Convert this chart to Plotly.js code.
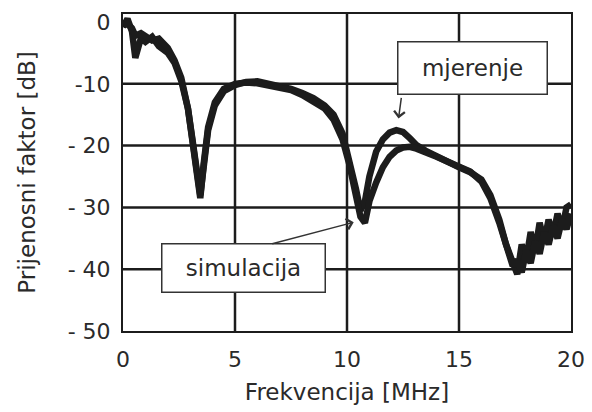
<!DOCTYPE html>
<html>
<head>
<meta charset="utf-8">
<script src="https://cdn.plot.ly/plotly-3.0.1.min.js"></script>
<style>html,body{margin:0;padding:0;background:#fff}#chart{width:592px;height:412px}</style>
</head>
<body>
<div id="chart"></div>
<script>
// Frequency (MHz)
const freq = [0, 0.2, 0.4, 0.55, 0.8, 1.0, 1.3, 1.6, 2.0, 2.3, 2.6, 2.9, 3.1, 3.3, 3.45, 3.6, 3.8, 4.1, 4.5, 5.0, 5.5, 6.0, 6.5, 7.0, 7.5, 8.0, 8.5, 9.0, 9.4, 9.8, 10.1, 10.4, 10.6, 10.8, 11.0, 11.3, 11.6, 11.9, 12.2, 12.5, 12.8, 13.1, 13.5, 14.0, 14.5, 15.0, 15.5, 16.0, 16.4, 16.8, 17.1, 17.4, 17.6, 17.8, 18.0, 18.2, 18.4, 18.6, 18.8, 19.0, 19.2, 19.4, 19.6, 19.8, 20.0];
// mjerenje (measurement), dB
const mjerenje = [-0.8, 0.5, -1.5, -5.8, -2.6, -3.2, -2.4, -3.9, -5.0, -6.6, -9.5, -14, -19, -25, -28, -23.5, -17.5, -13.5, -11.2, -10.2, -9.7, -9.6, -10.0, -10.3, -10.8, -11.5, -12.3, -13.5, -15, -18, -22, -27, -30.5, -29, -25, -21, -19, -17.9, -17.5, -17.8, -18.8, -19.9, -20.8, -21.8, -22.8, -23.5, -24.3, -25.5, -28, -32, -36, -39, -40.8, -36, -38.5, -34, -37, -32.5, -35.5, -32, -34.5, -31, -33.5, -30, -29.5];
// simulacija (simulation), dB
const simulacija = [-0.5, -0.3, -1.0, -2.2, -1.8, -2.4, -3.0, -2.7, -4.2, -6.2, -9.0, -14, -20, -26, -28.5, -23, -17, -13, -10.8, -10.0, -9.8, -9.9, -10.2, -10.5, -11.0, -11.8, -12.8, -14.0, -15.8, -19, -23, -28, -31.5, -32.5, -29, -26, -23.5, -21.8, -20.8, -20.3, -20.2, -20.5, -21.0, -21.8, -22.6, -23.4, -24.2, -25.8, -28.5, -32.5, -36.5, -39.5, -38.5, -40.5, -37, -39, -35.5, -37.5, -34, -36, -33, -35, -32, -33.5, -31];

const xTickVals = [0, 5, 10, 15, 20];
const xTickText = ["0", "5", "10", "15", "20"];
const yTickVals = [0, -10, -20, -30, -40, -50];
const yTickText = ["0", "-10", "- 20", "- 30", "- 40", "- 50"];
const gridX = [5, 10, 15];
const gridY = [-10, -20, -30, -40];

const font = "DejaVu Sans, Arial, sans-serif";
const ink = "#1c1c1c";
const txt = "#2a2a2a";

const lineStyle = {color: ink, width: 6.5, shape: "linear"};
const traces = [
  {x: freq, y: mjerenje, mode: "lines", name: "mjerenje", line: lineStyle, hoverinfo: "skip"},
  {x: freq, y: simulacija, mode: "lines", name: "simulacija", line: lineStyle, hoverinfo: "skip"}
];

const shapes = [];
gridX.forEach(v => shapes.push({type: "line", xref: "x", yref: "paper", x0: v, x1: v, y0: 0, y1: 1, line: {color: ink, width: 2.5}, layer: "below"}));
gridY.forEach(v => shapes.push({type: "line", xref: "paper", yref: "y", x0: 0, x1: 1, y0: v, y1: v, line: {color: ink, width: 2.5}, layer: "below"}));

const annotations = [
  {xref: "x", yref: "y", x: 15.6, y: -7.4, text: "mjerenje", showarrow: false,
   font: {family: font, size: 23, color: txt}, bgcolor: "#fff", bordercolor: "#333", borderwidth: 1.5,
   width: 146, height: 49, align: "center", valign: "middle"},
  {xref: "x", yref: "y", x: 12.3, y: -15.6, text: "", showarrow: true, ax: 3, ay: -22,
   arrowhead: 4, arrowsize: 1.4, arrowwidth: 1.5, arrowcolor: "#333"},
  {xref: "x", yref: "y", x: 5.4, y: -39.8, text: "simulacija", showarrow: false,
   font: {family: font, size: 23, color: txt}, bgcolor: "#fff", bordercolor: "#333", borderwidth: 1.5,
   width: 160, height: 45, align: "center", valign: "middle"},
  {xref: "x", yref: "y", x: 10.3, y: -32.4, text: "", showarrow: true, ax: -83, ay: 22,
   arrowhead: 4, arrowsize: 1.4, arrowwidth: 1.5, arrowcolor: "#333"}
];

const layout = {
  width: 592, height: 412,
  margin: {l: 123, r: 21, t: 14, b: 81},
  paper_bgcolor: "#fff", plot_bgcolor: "#fff",
  showlegend: false,
  font: {family: font, size: 22, color: txt},
  xaxis: {
    range: [0, 20], tickvals: xTickVals, ticktext: xTickText, showgrid: false, zeroline: false,
    showline: true, linecolor: ink, linewidth: 2, mirror: true, ticks: "",
    ticklabelstandoff: 8, tickfont: {family: font, size: 22, color: txt},
    title: {text: "Frekvencija [MHz]", font: {family: font, size: 23, color: txt}, standoff: 12}
  },
  yaxis: {
    range: [-50, 1.3], tickvals: yTickVals, ticktext: yTickText, showgrid: false, zeroline: false,
    showline: true, linecolor: ink, linewidth: 2, mirror: true, ticks: "",
    ticklabelstandoff: 6, tickfont: {family: font, size: 22, color: txt},
    title: {text: "Prijenosni faktor [dB]", font: {family: font, size: 23, color: txt}, standoff: 26}
  },
  shapes: shapes,
  annotations: annotations
};

Plotly.newPlot("chart", traces, layout, {displayModeBar: false, staticPlot: true});
</script>
</body>
</html>
